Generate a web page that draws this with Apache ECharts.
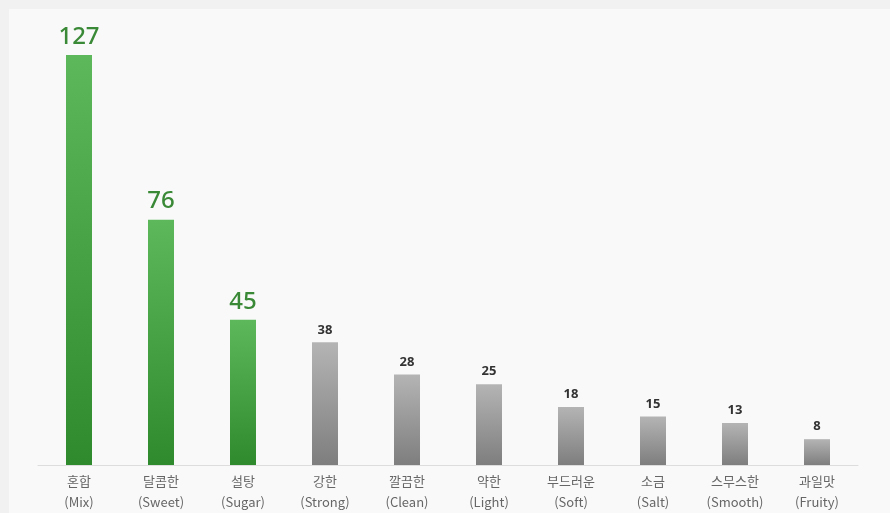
<!DOCTYPE html>
<html><head><meta charset="utf-8">
<script src="https://cdn.jsdelivr.net/npm/echarts@6/dist/echarts.min.js"></script>
<style>
html,body{margin:0;padding:0;background:#f1f1f1;}
#panel{position:absolute;left:9px;top:9px;width:881px;height:504px;background:#f9f9f9;}
#c{position:absolute;left:0;top:0;width:890px;height:513px;}
</style></head>
<body><div id="panel"></div><div id="c"></div>
<script>
const categoriesKo = ['혼합','달콤한','설탕','강한','깔끔한','약한','부드러운','소금','스무스한','과일맛'];
const categoriesEn = ['Mix','Sweet','Sugar','Strong','Clean','Light','Soft','Salt','Smooth','Fruity'];
const values = [127,76,45,38,28,25,18,15,13,8];
const highlightCount = 3;

const chart = echarts.init(document.getElementById('c'));
const greenGrad = new echarts.graphic.LinearGradient(0,0,0,1,[{offset:0,color:'#5cb85a'},{offset:1,color:'#2e8a2c'}]);
const greyGrad = new echarts.graphic.LinearGradient(0,0,0,1,[{offset:0,color:'#b4b4b4'},{offset:1,color:'#7e7e7e'}]);
chart.setOption({
  backgroundColor:'transparent',
  grid:{left:38,right:32,top:55,bottom:48,outerBoundsMode:'none',containLabel:false},
  xAxis:{type:'category',data:categoriesKo.map((k,i)=>k+'\n('+categoriesEn[i]+')'),
    axisLine:{lineStyle:{color:'#dddddd'}},axisTick:{show:false},
    axisLabel:{color:'#666',fontSize:13,lineHeight:21,margin:6,fontFamily:'"Noto Sans CJK KR", "Noto Sans", sans-serif'}},
  yAxis:{type:'value',min:0,max:127,show:false,splitLine:{show:false}},
  series:[{type:'bar',barWidth:26,animation:false,
    data:values.map((v,i)=>({value:v,
      itemStyle:{color:i<highlightCount?greenGrad:greyGrad},
      label:i<highlightCount?{fontSize:24,color:'#3a8937',fontWeight:500,distance:6}:{fontSize:13,color:'#333',fontWeight:'bold',distance:6}
    })),
    label:{show:true,position:'top',fontFamily:'"Noto Sans", "Open Sans", sans-serif'}
  }]
});
</script></body></html>
